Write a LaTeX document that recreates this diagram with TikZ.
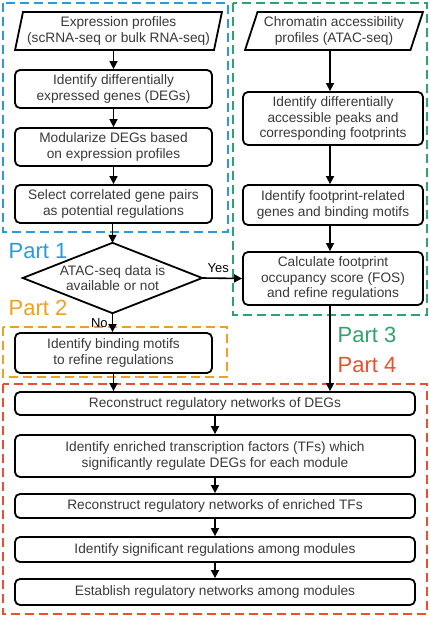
\documentclass[tikz,border=0pt]{standalone}
\usepackage{fontspec}
\setmainfont{Liberation Sans}
\usetikzlibrary{shapes.geometric,arrows.meta}
\definecolor{txtgray}{HTML}{3A3A3A}
\definecolor{pblue}{HTML}{2A9AD8}
\definecolor{pgreen}{HTML}{2EA36F}
\definecolor{porange}{HTML}{F0A020}
\definecolor{pred}{HTML}{E9502E}
\tikzset{
  stepbox/.style={draw=black, line width=1.8pt, rounded corners=5pt, fill=white,
    align=center, text=txtgray, inner sep=0pt,
    font=\fontsize{13.7}{15.5}\selectfont},
  iobox/.style={draw=black, line width=1.8pt, trapezium, trapezium stretches=true,
    fill=white, align=center, text=txtgray, inner sep=0pt,
    font=\fontsize{13.7}{15.5}\selectfont},
  decbox/.style={align=center, text=txtgray, inner sep=0pt,
    font=\fontsize{13.7}{15.5}\selectfont},
  decline/.style={draw=black, line width=1.8pt, line join=miter, fill=white},
  flow/.style={line width=1.6pt, -{Triangle[length=8pt,width=8pt]}},
  partbox/.style={line width=1.6pt, dash pattern=on 9pt off 5pt},
  partlabel/.style={font=\fontsize{22}{24}\selectfont, inner sep=0pt},
  ynlabel/.style={font=\fontsize{13}{14}\selectfont, inner sep=0pt}
}
\begin{document}
\begin{tikzpicture}[x=1pt,y=-1pt]
\useasboundingbox (0,0) rectangle (430,617);
% dashed part boxes
\draw[partbox, pblue] (3,3) rectangle (228,232);
\draw[partbox, pgreen] (233,3) rectangle (427,315);
\draw[partbox, porange] (3,327) rectangle (227,377);
\draw[partbox, pred] (3,384) rectangle (427,614);
% part labels
\node[partlabel, text=pblue] (p1) at (38,251) {Part 1};
\node[partlabel, text=porange] (p2) at (38,308) {Part 2};
\node[partlabel, text=pgreen] (p3) at (367,335) {Part 3};
\node[partlabel, text=pred] (p4) at (367,365) {Part 4};
% left column
\node[iobox, trapezium left angle=75, trapezium right angle=105,
  minimum width=207pt, minimum height=38pt] (expr) at (118.5,31)
  {Expression profiles\\(scRNA-seq or bulk RNA-seq)};
\node[stepbox, minimum width=197pt, minimum height=38pt] (deg) at (113.5,89)
  {Identify differentially\\expressed genes (DEGs)};
\node[stepbox, minimum width=197pt, minimum height=38pt] (mod) at (113.5,147)
  {Modularize DEGs based\\on expression profiles};
\node[stepbox, minimum width=197pt, minimum height=38pt] (sel) at (113.5,204)
  {Select correlated gene pairs\\as potential regulations};
\node[decbox, minimum width=179pt, minimum height=70pt] (dec) at (112.5,278) {};
\draw[decline] (dec.north) -- (dec.east) -- (dec.south) -- (dec.west) -- cycle;
\node[decbox] (dectext) at (dec.center) {ATAC-seq data is\\available or not};
\node[stepbox, minimum width=197pt, minimum height=40pt] (bind) at (113.5,353)
  {Identify binding motifs\\to refine regulations};
% right column
\node[iobox, trapezium left angle=68, trapezium right angle=112,
  minimum width=178pt, minimum height=38pt] (chrom) at (334,31)
  {Chromatin accessibility\\profiles (ATAC-seq)};
\node[stepbox, minimum width=180pt, minimum height=53pt] (peak) at (333,118.5)
  {Identify differentially\\accessible peaks and\\corresponding footprints};
\node[stepbox, minimum width=180pt, minimum height=40pt] (foot) at (333,205)
  {Identify footprint-related\\genes and binding motifs};
\node[stepbox, minimum width=180pt, minimum height=53pt] (calc) at (333,278.5)
  {Calculate footprint\\occupancy score (FOS)\\and refine regulations};
% bottom
\node[stepbox, minimum width=400pt, minimum height=23pt] (rdeg) at (215,403.5)
  {Reconstruct regulatory networks of DEGs};
\node[stepbox, minimum width=400pt, minimum height=42pt] (etf) at (215,456)
  {Identify enriched transcription factors (TFs) which\\significantly regulate DEGs for each module};
\node[stepbox, minimum width=400pt, minimum height=24pt] (rtf) at (215,506)
  {Reconstruct regulatory networks of enriched TFs};
\node[stepbox, minimum width=400pt, minimum height=25pt] (sig) at (215,549.5)
  {Identify significant regulations among modules};
\node[stepbox, minimum width=400pt, minimum height=26pt] (est) at (215,592)
  {Establish regulatory networks among modules};
% connectors
\draw[flow] (113.5,50) -- (deg.north);
\draw[flow] (deg) -- (mod);
\draw[flow] (mod) -- (sel);
\draw[flow] (sel.south -| dec.north) -- (dec.north);
\draw[flow] (dec.east) -- (calc.west) node[ynlabel, pos=0.4, above=5pt] (yes) {Yes};
\draw[flow] (dec.south) -- (dec.south |- bind.north) node[ynlabel, midway, left=4pt] (no) {No};
\draw[flow] (bind.south) -- (bind.south |- rdeg.north);
\coordinate (c1) at (330,50);
\draw[flow] (chrom.south -| c1) -- (peak.north -| c1);
\draw[flow] (peak.south -| c1) -- (foot.north -| c1);
\draw[flow] (foot.south -| c1) -- (calc.north -| c1);
\draw[flow] (calc.south -| c1) -- (rdeg.north -| c1);
\draw[flow] (rdeg) -- (etf);
\draw[flow] (etf) -- (rtf);
\draw[flow] (rtf) -- (sig);
\draw[flow] (sig) -- (est);
\end{tikzpicture}
\end{document}
